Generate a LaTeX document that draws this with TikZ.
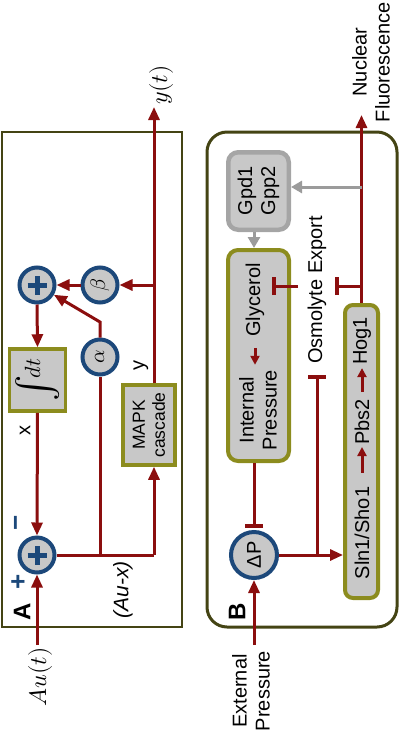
\documentclass[tikz,border=0pt]{standalone}
\usepackage{fontspec}
\usepackage{unicode-math}
\setmainfont{Liberation Sans}
\usepackage{graphicx}
\usetikzlibrary{arrows.meta}
\definecolor{darkred}{RGB}{139,14,14}
\definecolor{cblue}{RGB}{28,72,122}
\definecolor{boxgray}{RGB}{200,200,200}
\definecolor{boxolive}{RGB}{140,140,30}
\definecolor{frameolive}{RGB}{68,68,20}
\definecolor{lgray}{RGB}{155,155,155}
\definecolor{gpdgray}{RGB}{165,165,165}
\tikzset{
  redl/.style={draw=darkred, line width=3pt},
  arr/.style={redl, -{Triangle[length=13pt,width=11pt]}},
  smallarr/.style={redl, -{Triangle[length=9pt,width=9pt]}},
  inh/.style={redl, -{Bar[width=18pt,line width=4pt]}},
  grayarr/.style={draw=lgray, line width=3pt, -{Triangle[length=11pt,width=12pt]}},
  sumnode/.style={circle, draw=cblue, line width=4pt, fill=boxgray, minimum size=35pt, inner sep=0pt},
  blockbox/.style={rectangle, draw=boxolive, line width=4pt, fill=boxgray, inner sep=0pt},
  gpdbox/.style={rectangle, draw=gpdgray, line width=4.5pt, fill=boxgray, inner sep=0pt, rounded corners=10pt},
  rotlabel/.style={rotate=90, align=center, inner sep=1pt, font=\fontsize{20}{23}\selectfont},
  plusbar/.style={draw=cblue, line width=5pt},
  frame/.style={draw=frameolive, line width=2.5pt},
}
\begin{document}
\begin{tikzpicture}[x=1pt, y=-1pt]
\useasboundingbox (0,0) rectangle (400,732);
% ---------- Panel A ----------
\draw[frame] (2,132) rectangle (182,627);
\node[sumnode] (s1) at (37,285) {};
\node[sumnode] (s2) at (37,555) {};
\node[sumnode, font=\fontsize{21}{24}\selectfont] (beta) at (100,285) {\rotatebox{90}{$\beta$}};
\node[sumnode, font=\fontsize{21}{24}\selectfont] (alpha) at (100,357) {\rotatebox{90}{$\alpha$}};
\node[blockbox, line width=3.5pt, minimum width=56pt, minimum height=62pt] (int) at (37.5,380) {};
\node[rotlabel, font=\fontsize{22}{24}\selectfont] (intt) at (int.center) {\raisebox{-0.3em}{\scalebox{1.8}{$\int$}}$\!dt$};
\node[blockbox, line width=3.5pt, minimum width=52pt, minimum height=80pt] (mapk) at (149,425) {};
\node[rotlabel, font=\fontsize{17.5}{20}\selectfont] (mapkt) at (mapk.center) {MAPK\\cascade};
\foreach \s in {s1,s2}{
  \draw[plusbar] ([xshift=-9.5pt]\s.center) -- ([xshift=9.5pt]\s.center);
  \draw[plusbar] ([yshift=-9.5pt]\s.center) -- ([yshift=9.5pt]\s.center);
}
\coordinate (aut0) at (37,645);
\coordinate (jA) at (100,555);
\coordinate (jM) at (154,555);
\coordinate (abend) at (100,322);
\coordinate (yout) at (154,107);
\coordinate (jB) at (154,285);
\draw[arr] (aut0) -- (s2.south);
\draw[arr] (s1.south) -- (int.north);
\draw[arr] (int.south) -- (s2.north);
\draw[redl] (s2.east) -- (jM);
\draw[arr] (jM) -- (jM |- mapk.south);
\draw[redl] (jA) -- (alpha.south);
\draw[arr] (alpha.north) -- (abend) -- (s1.-30);
\draw[arr] (jM |- mapk.north) -- (yout);
\draw[arr] (jB) -- (beta.east);
\draw[arr] (beta.west) -- (s1.east);
\node[rotlabel, font=\fontsize{24}{26}\selectfont] (ytl) at (161,85) {$y(t)$};
\node[rotlabel, font=\fontsize{24}{26}\selectfont] (autl) at (40,677) {$Au(t)$};
\node[rotlabel] (xl) at (25,430) {x};
\node[rotlabel] (yl) at (141,365) {y};
\node[rotlabel, font=\fontsize{21}{24}\selectfont\itshape] (auxl) at (123,590) {(Au-x)};
\node[rotlabel, font=\fontsize{24}{26}\selectfont\bfseries] (Al) at (22,612) {A};
\node[rotlabel, text=cblue, font=\fontsize{26}{28}\selectfont\bfseries] (minusl) at (19,523) {−};
\node[rotlabel, text=cblue, font=\fontsize{26}{28}\selectfont\bfseries] (plusl) at (19,582) {+};
% ---------- Panel B ----------
\draw[frame, line width=3pt, rounded corners=20pt] (207,132) rectangle (397,627);
\node[gpdbox, minimum width=60.5pt, minimum height=77.5pt] (gpd) at (258.5,191) {};
\node[rotlabel] (gpdt) at (gpd.center) {Gpd1\\Gpp2};
\node[blockbox, rounded corners=10pt, minimum width=61pt, minimum height=211pt] (ip) at (258.5,355.5) {};
\node[rotlabel] (glyc) at (255,300) {Glycerol};
\node[rotlabel] (ipt) at (258,410) {Internal\\Pressure};
\node[blockbox, rounded corners=8pt, minimum width=33pt, minimum height=293pt] (sln) at (361.5,451.5) {};
\node[rotlabel] (hog) at (362,341) {Hog1};
\node[rotlabel] (pbs) at (362,422) {Pbs2};
\node[rotlabel] (sho) at (362,533) {Sln1/Sho1};
\node[rotlabel] (osm) at (317,290) {Osmolyte Export};
\node[sumnode, minimum size=46pt] (dp) at (254,555) {\rotatebox{90}{\fontsize{20}{23}\selectfont ΔP}};
\node[rotlabel] (nf) at (371,62) {Nuclear\\Fluorescence};
\node[rotlabel] (ext) at (251,691) {External\\Pressure};
\node[rotlabel, font=\fontsize{24}{26}\selectfont\bfseries] (Bl) at (237,612) {B};
\draw[smallarr, shorten <=10pt, shorten >=4pt] (glyc.west) -- (glyc.west |- ipt.east);
\draw[smallarr, shorten <=6pt, shorten >=2pt] (pbs.east) -- (pbs.east |- hog.west);
\draw[smallarr, shorten <=13pt, shorten >=1pt] (sho.east) -- (sho.east |- pbs.west);
\coordinate (nfout) at (361.5,115);
\coordinate (jH) at (361.5,286);
\coordinate (barH) at (335,286);
\coordinate (osmL) at (298,286);
\coordinate (barG) at (272,286);
\coordinate (jD) at (317,555);
\coordinate (barO) at (317,375);
\coordinate (extin) at (254,645);
\coordinate (jG) at (361.5,187);
\draw[arr] (sln.north) -- (nfout);
\draw[inh] (jH) -- (barH);
\draw[inh] (osmL) -- (barG);
\draw[arr] (dp.east) -- (dp.east -| sln.west);
\draw[inh] (jD) -- (barO);
\draw[inh, shorten >=2pt] (ip.south -| dp.north) -- (dp.north);
\draw[arr] (extin) -- (dp.south);
\draw[grayarr] (jG) -- (gpd.east |- jG);
\draw[grayarr] (gpd.south -| dp.north) -- (ip.north -| dp.north);
\end{tikzpicture}
\end{document}
